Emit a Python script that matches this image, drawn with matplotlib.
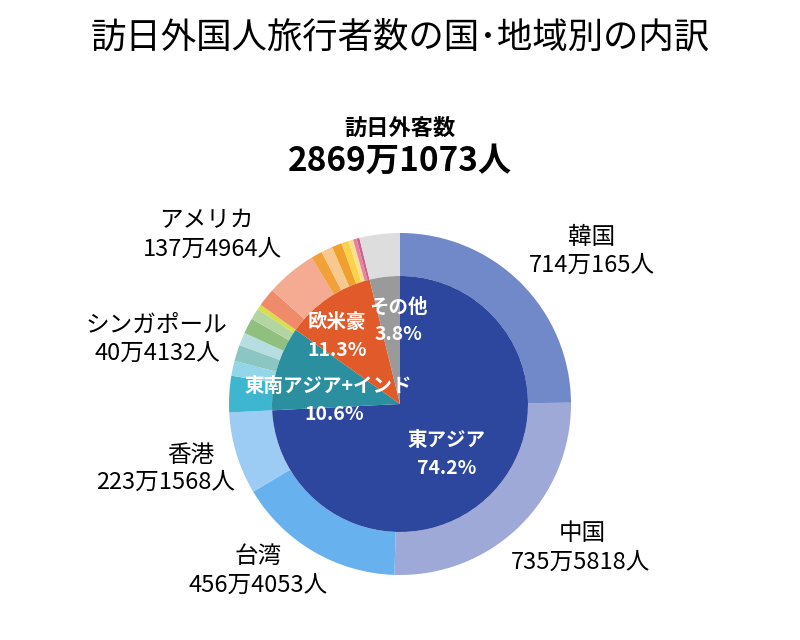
import matplotlib.pyplot as plt

plt.rcParams['font.family'] = ['Noto Sans CJK JP', 'DejaVu Sans']

# 2017 visitor arrivals by country (outer ring), clockwise from the top
countries = ["韓国", "中国", "台湾", "香港",
             "タイ", "シンガポール", "マレーシア", "インドネシア", "フィリピン", "ベトナム", "インド",
             "豪州", "アメリカ", "カナダ", "英国", "フランス", "ドイツ", "イタリア", "スペイン", "ロシア",
             "その他"]
visitors = [7140165, 7355818, 4564053, 2231568,
            987211, 404132, 439548, 352330, 424121, 308898, 133947,
            495054, 1374964, 305596, 310499, 268977, 195606, 125864, 99966, 77251,
            1095505]
country_colors = ["#7189c9", "#9ea9d7", "#67b1ef", "#9ccbf3",
                  "#3fb6d0", "#93d6ea", "#8cc6c3", "#b6dde0", "#8fc080", "#b3d5a2", "#d8df4a",
                  "#ef8a6b", "#f5ab92", "#f2a13a", "#f8c98f", "#f1a02e", "#f8d24a", "#f9e08a", "#e184a6", "#d2608f",
                  "#dddddd"]

# regions (inner pie)
regions = ["東アジア", "東南アジア+インド", "欧米豪", "その他"]
region_sizes = [4, 7, 9, 1]  # number of countries in each region
region_colors = ["#2c479d", "#2b8f9f", "#e05a2a", "#9a9a9a"]

total = sum(visitors)
region_values = []
i = 0
for n in region_sizes:
    region_values.append(sum(visitors[i:i + n]))
    i += n


def fmt(v):
    return f"{v // 10000}万{v % 10000}人"


fig = plt.figure(figsize=(8, 6.4), dpi=100)

cx, cy, R = 400, 404, 171
ax = fig.add_axes([(cx - R) / 800, (640 - cy - R) / 640, 2 * R / 800, 2 * R / 640])

inner_r = 128 / R
ax.pie(visitors, radius=1, colors=country_colors, startangle=90, counterclock=False,
       wedgeprops=dict(width=1 - inner_r, linewidth=0))
ax.pie(region_values, radius=inner_r, colors=region_colors, startangle=90, counterclock=False,
       wedgeprops=dict(linewidth=0))
# pie() resets the limits, so set them afterwards
ax.set_xlim(-1, 1)
ax.set_ylim(-1, 1)
ax.set_aspect("equal")
ax.axis("off")


def px(x, y):
    return x / 800, 1 - y / 640


# title and total
fig.text(*px(400, 38), "訪日外国人旅行者数の国･地域別の内訳", ha="center", va="center", fontsize=25.5)
fig.text(*px(400, 128), "訪日外客数", ha="center", va="center", fontsize=16, fontweight="bold")
fig.text(*px(400, 161), fmt(total), ha="center", va="center", fontsize=24, fontweight="bold")

# inner labels
inner_pos = {"東アジア": (446, 440), "東南アジア+インド": (328, 386), "欧米豪": (337, 322), "その他": (398, 307)}
pct_pos = {"東アジア": (447, 469), "東南アジア+インド": (334, 415), "欧米豪": (337, 351), "その他": (398, 335)}
for name, v in zip(regions, region_values):
    fig.text(*px(*inner_pos[name]), name, ha="center", va="center", fontsize=14, fontweight="bold",
             color="white")
    fig.text(*px(*pct_pos[name]), f"{v / total * 100:.1f}%", ha="center", va="center", fontsize=14,
             fontweight="bold", color="white")

# outer labels: (name position, number position)
outer_pos = {"韓国": ((592, 237), (592, 265)),
             "中国": ((582, 533), (581, 562)),
             "台湾": ((258, 556), (258, 585)),
             "香港": ((191, 455), (166, 482)),
             "シンガポール": ((156, 325), (157, 353)),
             "アメリカ": ((206, 221), (212, 249))}
for name, v in zip(countries, visitors):
    if name in outer_pos:
        name_xy, num_xy = outer_pos[name]
        fig.text(*px(*name_xy), name, ha="center", va="center", fontsize=17)
        fig.text(*px(*num_xy), fmt(v), ha="center", va="center", fontsize=17)

fig.savefig("out.png", dpi=100)
